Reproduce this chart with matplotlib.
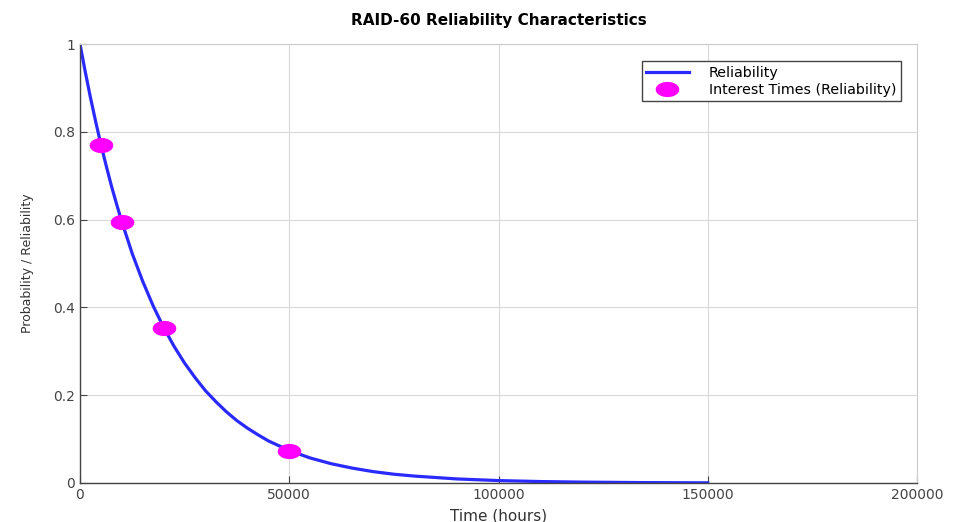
import matplotlib
matplotlib.use('Agg')
import matplotlib.pyplot as plt
import numpy as np

# curve values
t_curve = [0, 1250, 2500, 3750, 5000, 6250, 7500, 8750, 10000, 12500, 15000,
           17500, 20000, 22500, 25000, 27500, 30000, 32500, 35000, 37500,
           40000, 42500, 45000, 47500, 50000, 55000, 60000, 65000, 70000,
           75000, 80000, 90000, 100000, 110000, 120000, 135000, 150000]
r_curve = [1.0, 0.937, 0.878, 0.823, 0.771, 0.723, 0.677, 0.635, 0.595, 0.522,
           0.459, 0.403, 0.354, 0.311, 0.273, 0.240, 0.210, 0.185, 0.162,
           0.142, 0.125, 0.110, 0.096, 0.085, 0.074, 0.057, 0.044, 0.034,
           0.026, 0.020, 0.0157, 0.0093, 0.0055, 0.0033, 0.0020, 0.0009,
           0.0004]

t_marks = [5000, 10000, 20000, 50000]
r_marks = [0.771, 0.595, 0.354, 0.074]

# wide ellipse marker, like the stretched original
a = np.linspace(0, 2 * np.pi, 40)
ellipse = np.column_stack([np.cos(a), 0.62 * np.sin(a)])

fig = plt.figure(figsize=(9.58, 5.22), dpi=100)
ax = fig.add_axes([80 / 958, 39 / 522, 837 / 958, 439 / 522])

ax.plot(t_curve, r_curve, color='#2a2aff', linewidth=2.3, label='Reliability')
ax.plot(t_marks, r_marks, linestyle='none', marker=ellipse, markersize=16,
        color='#ff00ff', label='Interest Times (Reliability)')

ax.set_xlim(0, 200000)
ax.set_ylim(0, 1)
ax.set_xticks([0, 50000, 100000, 150000, 200000])
ax.set_yticks([0, 0.2, 0.4, 0.6, 0.8, 1])
ax.set_yticklabels(['0', '0.2', '0.4', '0.6', '0.8', '1'])
ax.grid(True, color='#d9d9d9', linewidth=0.8)
ax.set_axisbelow(True)
ax.tick_params(direction='in', length=5, colors='#444444', labelsize=10,
               top=False, right=False)
for s in ['top', 'right']:
    ax.spines[s].set_color('#cccccc')
for s in ['left', 'bottom']:
    ax.spines[s].set_color('#444444')
    ax.spines[s].set_linewidth(1.0)

ax.set_title('RAID-60 Reliability Characteristics', fontsize=11,
             fontweight='bold', pad=14)
ax.set_xlabel('Time (hours)', fontsize=11, color='#333333', labelpad=5)
ax.set_ylabel('Probability / Reliability', fontsize=9, color='#333333',
              labelpad=14)

leg = ax.legend(loc='upper right', bbox_to_anchor=(0.989, 0.977), fontsize=10.3,
                fancybox=False, framealpha=1, edgecolor='#444444',
                borderpad=0.3, handlelength=3.0, handletextpad=1.4,
                labelspacing=0.25)
leg.get_frame().set_linewidth(1.0)

fig.savefig('out.png', dpi=100)
